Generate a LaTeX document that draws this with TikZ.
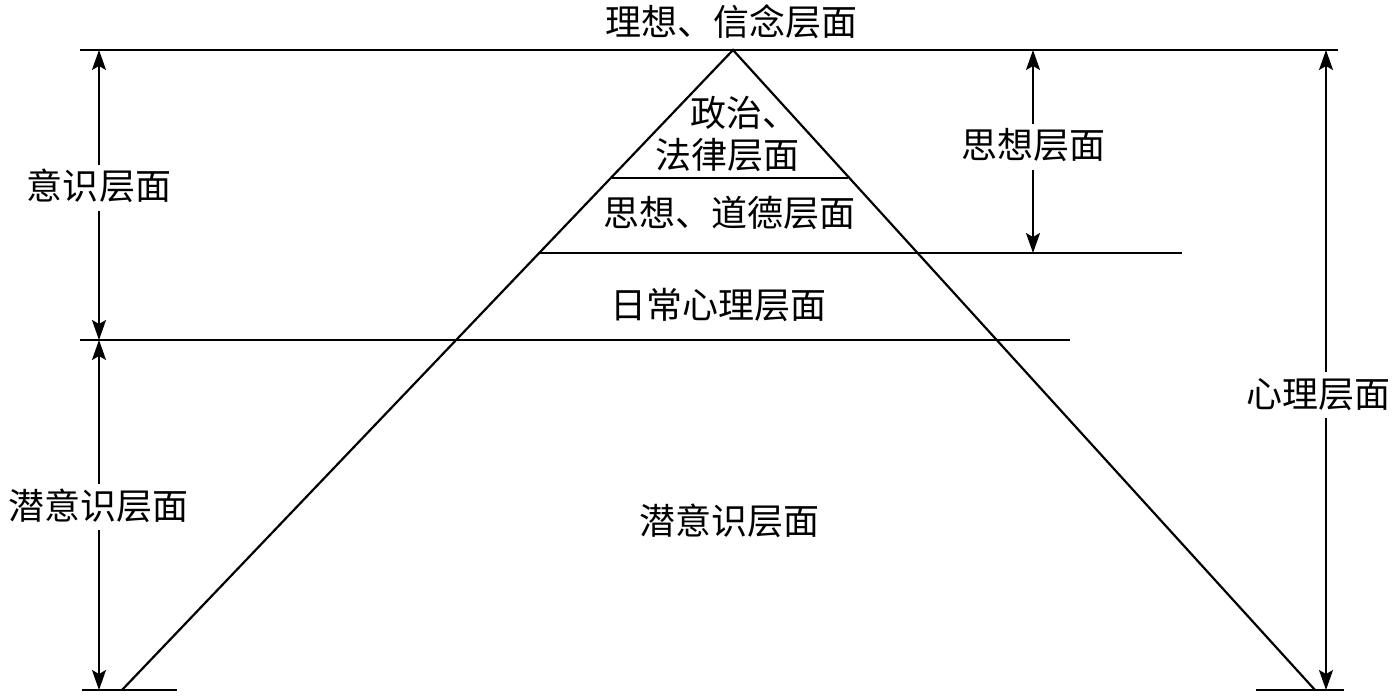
\documentclass[tikz,border=0pt]{standalone}
\usepackage{fontspec}
\newfontfamily\cjk{Noto Sans CJK SC}
\usepackage{tikz}
\usetikzlibrary{positioning,arrows.meta,calc}

\begin{document}
\begin{tikzpicture}[
    x=1pt, y=-1pt,
    line/.style={line width=2.2pt},
    label/.style={font=\cjk\fontsize{36}{42}\selectfont, text height=30pt, text depth=6pt, inner sep=5pt},
    arrow/.style={-{Stealth[length=20pt, width=14pt, inset=4pt]}, line width=1.7pt}
]
\useasboundingbox (0,0) rectangle (1394,700);
% pyramid corners and level lines
\coordinate (apex) at (733,50);
\coordinate (baseL) at (122,690);
\coordinate (baseR) at (1315,690);
\coordinate (topL) at (80,50);
\coordinate (topR) at (1338,50);
\coordinate (midL) at (80,340);
\coordinate (midR) at (1070,340);
\coordinate (thoughtL) at (538,253);
\coordinate (thoughtR) at (1182,253);
\coordinate (polL) at (612,178);
\coordinate (polR) at (848,178);
\coordinate (footLa) at (82,690);
\coordinate (footLb) at (177,690);
\coordinate (footRa) at (1256,690);
\coordinate (footRb) at (1344,690);
\draw[line] (topL) -- (topR);
\draw[line] (midL) -- (midR);
\draw[line] (thoughtL) -- (thoughtR);
\draw[line] (polL) -- (polR);
\draw[line] (footLa) -- (footLb);
\draw[line] (footRa) -- (footRb);
\draw[line] (baseL) -- (apex) -- (baseR);
% texts inside
\node[label] (ideal) at (731,24) {理想、信念层面};
\node[label] (pol) at (744,115) {政治、};
\node[label] (law) at (727,157) {法律层面};
\node[label] (moral) at (729,215) {思想、道德层面};
\node[label] (daily) at (718,307) {日常心理层面};
\node[label] (subin) at (729,522) {潜意识层面};
% side scales
\node[label] (consc) at (99,188) {意识层面};
\node[label] (subL) at (99,507) {潜意识层面};
\node[label] (thought) at (1033,147) {思想层面};
\node[label] (psych) at (1318,395) {心理层面};
\coordinate (c1) at (99,50);
\coordinate (c2) at (99,340);
\coordinate (c3) at (99,690);
\coordinate (t1) at (1033,50);
\coordinate (t2) at (1033,253);
\coordinate (p1) at (1326,50);
\coordinate (p2) at (1326,690);
\draw[arrow] (consc) -- (c1);
\draw[arrow] (consc) -- (c2);
\draw[arrow] (subL) -- (c2);
\draw[arrow] (subL) -- (c3);
\draw[arrow] (thought) -- (t1);
\draw[arrow] (thought) -- (t2);
\draw[arrow] (psych.north -| p1) -- (p1);
\draw[arrow] (psych.south -| p1) -- (p2);
\end{tikzpicture}
\end{document}
